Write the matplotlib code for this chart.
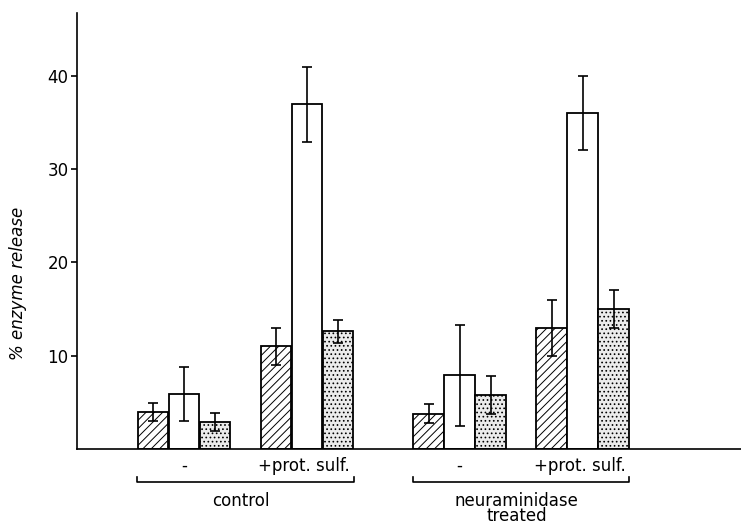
import numpy as np
import matplotlib
matplotlib.use("Agg")
from matplotlib import pyplot as plt

# data
groups = ['-', '+prot. sulf.', '-', '+prot. sulf.']
hatched = [4.0, 11.0, 3.8, 13.0]
hatched_err = [0.95, 2.0, 1.0, 3.0]
open_bar = [5.9, 36.9, 7.9, 36.0]
open_err = [2.9, 4.0, 5.4, 4.0]
dotted = [2.9, 12.6, 5.8, 15.0]
dotted_err = [1.0, 1.2, 2.0, 2.0]
yticks = [10, 20, 30, 40]
brackets = ['control', 'neuraminidase\ntreated']

plt.rcParams['hatch.linewidth'] = 0.7
fig = plt.figure(figsize=(7.41, 5.25), dpi=100)
ax = fig.add_axes([77/741, 76/525, 664/741, 436/525])

pos = np.array([3.45, 7.42, 12.34, 16.31])  # group centres, bar width = 1
w = 0.99
eb = dict(ecolor='black', elinewidth=1.2, capsize=3.5, capthick=1.2)
ax.bar(pos - 1, hatched, w, yerr=hatched_err, facecolor='white', edgecolor='black',
       hatch='////', linewidth=1.3, error_kw=eb)
ax.bar(pos, open_bar, w, yerr=open_err, facecolor='white', edgecolor='black',
       linewidth=1.3, error_kw=eb)
ax.bar(pos + 1, dotted, w, yerr=dotted_err, facecolor='#ebebeb', edgecolor='black',
       hatch='....', linewidth=1.3, error_kw=eb)

ax.set_xlim(0, 21.42)
ax.set_ylim(0, 46.7)
ax.set_yticks(yticks)
ax.set_xticks([])
ax.tick_params(axis='y', direction='out', length=4, width=1.2, labelsize=12, pad=2)
for s in ['top', 'right']:
    ax.spines[s].set_visible(False)
ax.spines['left'].set_linewidth(1.2)
ax.spines['bottom'].set_linewidth(1.2)

# labels under each group
for p, g in zip(pos, groups):
    ax.text(p if g == '-' else p - 0.1, -1.8, g, ha='center', va='center', fontsize=12,
            clip_on=False)

# brackets
for i, lab in enumerate(brackets):
    x0 = pos[2*i] - 1.5
    x1 = pos[2*i + 1] + 1.5
    ax.plot([x0, x0, x1, x1], [-3.0, -3.5, -3.5, -3.0], color='black', lw=1.2,
            clip_on=False)
    ax.text((x0 + x1) / 2 - 0.15, -4.6, lab, ha='center', va='top', fontsize=12,
            linespacing=0.78, clip_on=False)

fig.text(18/741, 1 - 283/525, '% enzyme release', rotation=90, ha='center',
         va='center', fontsize=12, style='italic')

fig.savefig('out.png', dpi=100)
